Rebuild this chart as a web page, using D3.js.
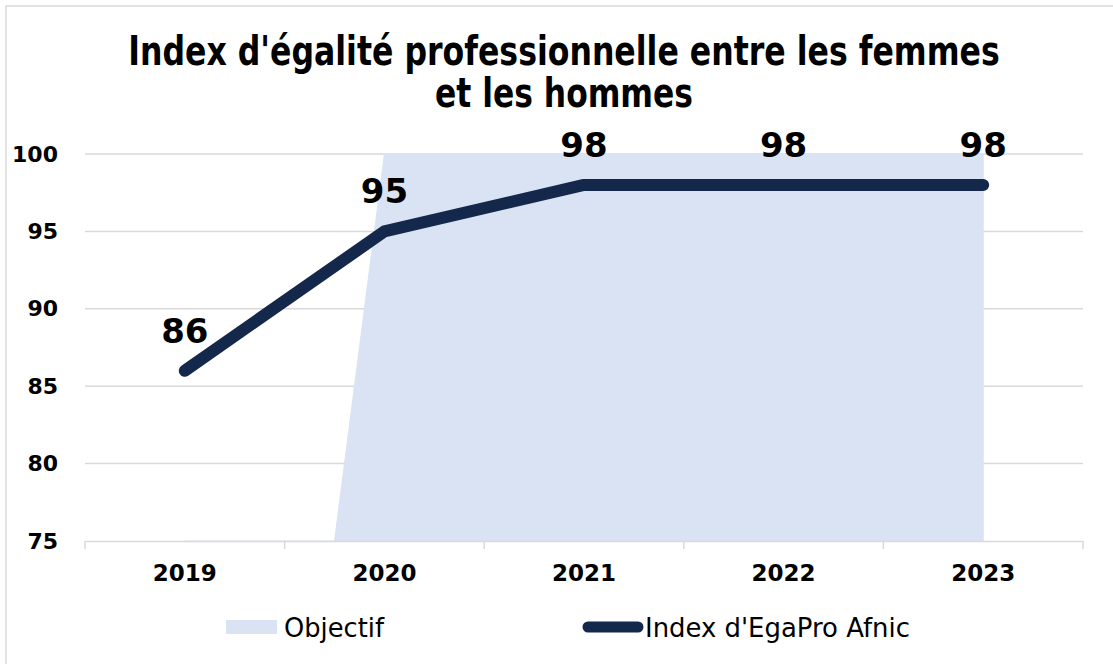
<!DOCTYPE html>
<html>
<head>
<meta charset="utf-8">
<script src="https://cdn.jsdelivr.net/npm/d3@7"></script>
<style>
  body { margin: 0; background: #fff; }
  svg { display: block; }
</style>
</head>
<body>
<svg width="1113" height="664"></svg>
<script>
var years = ["2019", "2020", "2021", "2022", "2023"];
var objectif = [0, 100, 100, 100, 100];
var indexEgaPro = [86, 95, 98, 98, 98];
var yTicks = [75, 80, 85, 90, 95, 100];
var titleLines = ["Index d'égalité professionnelle entre les femmes", "et les hommes"];
var legendNames = ["Objectif", "Index d'EgaPro Afnic"];

var fontFam = "'DejaVu Sans', 'Noto Sans', sans-serif";
var margin = {top: 154, right: 30, bottom: 123, left: 85};
var width = 1113 - margin.left - margin.right,
    height = 664 - margin.top - margin.bottom;

var svg = d3.select("svg");

// squeeze a text horizontally to a wanted width
function fitText(g, txt, w, anchor) {
  var t = g.append("text")
    .attr("text-anchor", anchor)
    .text(txt);
  return t;
}
function squeeze(t, w) {
  var natural = t.node().getComputedTextLength();
  var s = Math.min(1, w / natural);
  t.attr("transform", "scale(" + s + ",1)");
}

// outer border
svg.append("rect")
  .attr("x", 6).attr("y", 6)
  .attr("width", 1120).attr("height", 680)
  .attr("fill", "none")
  .attr("stroke", "#d9d9d9")
  .attr("stroke-width", 1.5);

// title
var titleY = [65, 107], titleW = [872, 258];
titleLines.forEach(function(t, i) {
  var g = svg.append("g").attr("transform", "translate(564," + titleY[i] + ")");
  var tx = g.append("text")
    .attr("text-anchor", "middle")
    .attr("font-family", fontFam)
    .attr("font-weight", "bold")
    .attr("font-size", 40)
    .attr("fill", "#000")
    .text(t);
  squeeze(tx, titleW[i]);
});

var chart = svg.append("g")
  .attr("transform", "translate(" + margin.left + "," + margin.top + ")");

var x = d3.scaleBand().domain(years).range([0, width]);
var y = d3.scaleLinear().domain([75, 100]).range([height, 0]);
var cx = function(i) { return x(years[i]) + x.bandwidth() / 2; };

svg.append("defs").append("clipPath").attr("id", "plotClip")
  .append("rect").attr("x", 0).attr("y", -1).attr("width", width).attr("height", height + 1);

// gridlines
chart.append("g")
  .selectAll("line").data(yTicks.slice(1)).enter().append("line")
  .attr("x1", 0).attr("x2", width)
  .attr("y1", function(d) { return y(d); })
  .attr("y2", function(d) { return y(d); })
  .attr("stroke", "#d9d9d9")
  .attr("stroke-width", 1.5);

// objectif area
var area = d3.area()
  .x(function(d, i) { return cx(i); })
  .y0(y(75))
  .y1(function(d) { return y(d); });

chart.append("path")
  .datum(objectif)
  .attr("clip-path", "url(#plotClip)")
  .attr("fill", "#dae3f3")
  .attr("stroke", "#dae3f3")
  .attr("stroke-width", 1)
  .attr("d", area);

// x axis
var xAxis = chart.append("g")
  .attr("transform", "translate(0," + height + ")")
  .call(d3.axisBottom(x).tickSize(0).tickPadding(24));
xAxis.select(".domain").attr("stroke", "#d9d9d9").attr("stroke-width", 1.5);
xAxis.selectAll("text")
  .attr("font-family", fontFam)
  .attr("font-weight", "bold")
  .attr("font-size", 23)
  .attr("fill", "#000");

chart.append("g")
  .selectAll("line").data(d3.range(years.length + 1)).enter().append("line")
  .attr("x1", function(i) { return i * x.step(); })
  .attr("x2", function(i) { return i * x.step(); })
  .attr("y1", height).attr("y2", height + 8)
  .attr("stroke", "#d9d9d9")
  .attr("stroke-width", 1.5);

// y axis (labels only)
var yAxis = chart.append("g")
  .call(d3.axisLeft(y).tickValues(yTicks).tickSize(0).tickPadding(27));
yAxis.select(".domain").remove();
yAxis.selectAll("text")
  .attr("font-family", fontFam)
  .attr("font-weight", "bold")
  .attr("font-size", 22)
  .attr("fill", "#000");

// index line
var line = d3.line()
  .x(function(d, i) { return cx(i); })
  .y(function(d) { return y(d); });

chart.append("path")
  .datum(indexEgaPro)
  .attr("fill", "none")
  .attr("stroke", "#14284b")
  .attr("stroke-width", 12)
  .attr("stroke-linecap", "round")
  .attr("stroke-linejoin", "round")
  .attr("d", line);

// data labels
chart.selectAll(".lbl").data(indexEgaPro).enter().append("text")
  .attr("class", "lbl")
  .attr("x", function(d, i) { return cx(i); })
  .attr("y", function(d) { return y(d) - 28; })
  .attr("text-anchor", "middle")
  .attr("font-family", fontFam)
  .attr("font-weight", "bold")
  .attr("font-size", 34)
  .attr("fill", "#000")
  .text(function(d) { return d; });

// legend
var leg = svg.append("g");
leg.append("rect")
  .attr("x", 226).attr("y", 620)
  .attr("width", 51).attr("height", 14)
  .attr("fill", "#dae3f3");
var l1 = leg.append("g").attr("transform", "translate(284,637)").append("text")
  .attr("font-family", fontFam)
  .attr("font-size", 27)
  .attr("fill", "#000")
  .text(legendNames[0]);
squeeze(l1, 100);
leg.append("line")
  .attr("x1", 588).attr("x2", 638)
  .attr("y1", 627).attr("y2", 627)
  .attr("stroke", "#14284b")
  .attr("stroke-width", 11)
  .attr("stroke-linecap", "round");
var l2 = leg.append("g").attr("transform", "translate(645,637)").append("text")
  .attr("font-family", fontFam)
  .attr("font-size", 27)
  .attr("fill", "#000")
  .text(legendNames[1]);
squeeze(l2, 265);
</script>
</body>
</html>
